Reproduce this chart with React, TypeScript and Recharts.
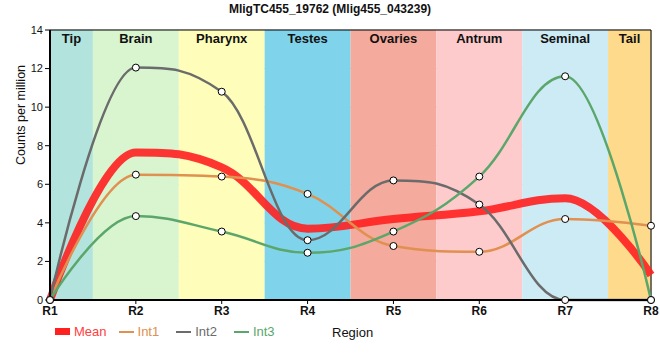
import { LineChart, Line, XAxis, YAxis, CartesianGrid, ReferenceArea, ReferenceLine } from "recharts"

const regions = ["R1", "R2", "R3", "R4", "R5", "R6", "R7", "R8"]
const mean = [0, 7.65, 6.88, 3.7, 4.2, 4.6, 5.28, 1.3]
const int1 = [0, 6.5, 6.4, 5.5, 2.8, 2.5, 4.2, 3.85]
const int2 = [0, 12.05, 10.8, 3.1, 6.2, 4.95, 0, 0]
const int3 = [0, 4.35, 3.55, 2.45, 3.55, 6.4, 11.6, 0]
const yTicks = [0, 2, 4, 6, 8, 10, 12, 14]

const bandNames = ["Tip", "Brain", "Pharynx", "Testes", "Ovaries", "Antrum", "Seminal", "Tail"]
const bandColors = ["#b3e3dd", "#d8f5d0", "#fefdb9", "#7fd4ec", "#f4aa9c", "#fdcbcc", "#cdebf5", "#fdda8c"]

const data = regions.map((r, i) => ({
    x: i + 1,
    region: r,
    mean: mean[i],
    int1: int1[i],
    int2: int2[i],
    int3: int3[i],
}))

const dot = { r: 3.5, fill: "#fff", stroke: "#000", strokeWidth: 1 }

// spline with flattened control points at local extremes (no overshoot)
function splineCurve(context: any) {
    let pts: number[][] = []
    return {
        areaStart() {},
        areaEnd() {},
        lineStart() {
            pts = []
        },
        point(x: number, y: number) {
            pts.push([+x, +y])
        },
        lineEnd() {
            const n = pts.length
            if (!n) return
            context.moveTo(pts[0][0], pts[0][1])
            let prx = pts[0][0]
            let pry = pts[0][1]
            for (let i = 1; i < n; i++) {
                const [x, y] = pts[i]
                let lx = x, ly = y, rx = x, ry = y
                if (i < n - 1) {
                    const [px, py] = pts[i - 1]
                    const [nx, ny] = pts[i + 1]
                    lx = (1.5 * x + px) / 2.5
                    ly = (1.5 * y + py) / 2.5
                    rx = (1.5 * x + nx) / 2.5
                    ry = (1.5 * y + ny) / 2.5
                    let corr = 0
                    if (rx !== lx) corr = ((ry - ly) * (rx - x)) / (rx - lx) + y - ry
                    ly += corr
                    ry += corr
                    if (ly > py && ly > y) {
                        ly = Math.max(py, y)
                        ry = 2 * y - ly
                    } else if (ly < py && ly < y) {
                        ly = Math.min(py, y)
                        ry = 2 * y - ly
                    }
                    if (ry > ny && ry > y) {
                        ry = Math.max(ny, y)
                        ly = 2 * y - ry
                    } else if (ry < ny && ry < y) {
                        ry = Math.min(ny, y)
                        ly = 2 * y - ry
                    }
                }
                context.bezierCurveTo(prx, pry, lx, ly, x, y)
                prx = rx
                pry = ry
            }
        },
    }
}

export default function App() {
    return (
        <div style={{ position: "absolute", left: 0, top: 0, width: 660, height: 360, fontFamily: "'Liberation Sans', Arial, sans-serif", background: "#fff" }}>
            <div style={{ position: "absolute", left: 0, top: 2, width: 660, textAlign: "center", fontWeight: "bold", fontSize: 12, color: "#111" }}>
                MligTC455_19762 (Mlig455_043239)
            </div>
            <LineChart width={660} height={360} data={data} margin={{ top: 30, right: 9, bottom: 40, left: 0 }}>
                {bandNames.map((name, i) => (
                    <ReferenceArea
                        key={name}
                        x1={Math.max(1, i + 0.5)}
                        x2={Math.min(8, i + 1.5)}
                        y1={0}
                        y2={14}
                        fill={bandColors[i]}
                        fillOpacity={1}
                        stroke="none"
                        label={{ value: name, position: "insideTop", offset: 4, fontWeight: "bold", fontSize: 13, fill: "#111" }}
                    />
                ))}
                <CartesianGrid stroke="#c8c8c8" strokeWidth={1} />
                <XAxis
                    dataKey="x"
                    type="number"
                    domain={[1, 8]}
                    ticks={[1, 2, 3, 4, 5, 6, 7, 8]}
                    tickFormatter={(v) => regions[v - 1]}
                    height={20}
                    axisLine={{ stroke: "#000", strokeWidth: 2 }}
                    tickLine={{ stroke: "#000" }}
                    tickSize={4}
                    tick={{ fill: "#111", fontSize: 12, fontWeight: "bold" }}
                />
                <YAxis
                    type="number"
                    domain={[0, 14]}
                    ticks={yTicks}
                    width={50}
                    axisLine={{ stroke: "#000", strokeWidth: 2 }}
                    tickLine={{ stroke: "#000" }}
                    tickSize={5}
                    tick={{ fill: "#111", fontSize: 11 }}
                    label={{ value: "Counts per million", angle: -90, position: "insideLeft", dx: 16, fill: "#111", fontSize: 12.5 }}
                />
                <ReferenceLine y={14} stroke="#000" strokeWidth={1} />
                <ReferenceLine x={8} stroke="#000" strokeWidth={1} />
                <Line type={splineCurve as any} dataKey="mean" stroke="#ff2020" strokeOpacity={0.9} strokeWidth={8} dot={false} isAnimationActive={false} />
                <Line type={splineCurve as any} dataKey="int1" stroke="#e0904f" strokeWidth={2.5} dot={dot} isAnimationActive={false} />
                <Line type={splineCurve as any} dataKey="int2" stroke="#6b6b6b" strokeWidth={2.5} dot={dot} isAnimationActive={false} />
                <Line type={splineCurve as any} dataKey="int3" stroke="#5ba66a" strokeWidth={2.5} dot={dot} isAnimationActive={false} />
            </LineChart>
            <div style={{ position: "absolute", left: 55, top: 324, fontSize: 13, display: "flex", alignItems: "center" }}>
                <span style={{ display: "inline-block", width: 15, height: 7, background: "#ff2020", marginRight: 4 }} />
                <span style={{ color: "#ff4040", marginRight: 12 }}>Mean</span>
                <span style={{ display: "inline-block", width: 15, height: 2, background: "#e0904f", marginRight: 4 }} />
                <span style={{ color: "#e0904f", marginRight: 17 }}>Int1</span>
                <span style={{ display: "inline-block", width: 15, height: 2, background: "#6b6b6b", marginRight: 4 }} />
                <span style={{ color: "#6b6b6b", marginRight: 17 }}>Int2</span>
                <span style={{ display: "inline-block", width: 15, height: 2, background: "#5ba66a", marginRight: 4 }} />
                <span style={{ color: "#5ba66a" }}>Int3</span>
            </div>
            <div style={{ position: "absolute", left: 332, top: 325, fontSize: 13, color: "#111" }}>Region</div>
        </div>
    )
}
